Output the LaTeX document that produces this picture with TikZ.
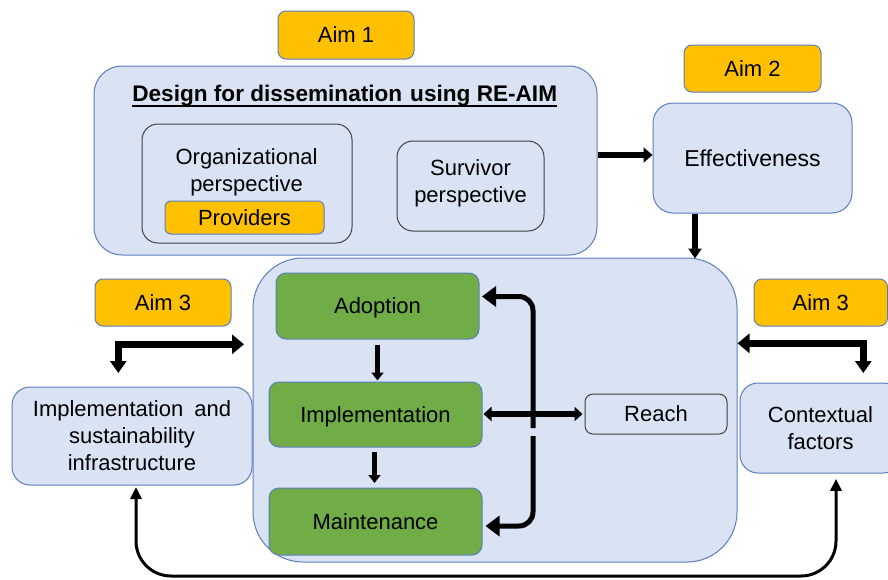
\documentclass[tikz,border=0pt]{standalone}
\usepackage{fontspec}
\setmainfont{Liberation Sans}
\usetikzlibrary{arrows.meta,calc}
\definecolor{lblue}{HTML}{DAE3F3}
\definecolor{bblue}{HTML}{5B7DBF}
\definecolor{ayel}{HTML}{FFC000}
\definecolor{agrn}{HTML}{70AD47}
\definecolor{bgray}{HTML}{404040}
\tikzset{
  every node/.style={font=\fontsize{22}{27}\selectfont, inner sep=0pt, align=center},
  bluebox/.style={draw=bblue, fill=lblue, line width=1pt, rounded corners=18pt},
  aimbox/.style={draw=bblue, fill=ayel, line width=1pt, rounded corners=8pt, text depth=0pt},
  grnbox/.style={draw=bblue, fill=agrn, line width=1pt, rounded corners=10pt, text depth=0pt},
  graybox/.style={draw=bgray, fill=lblue, line width=1pt, rounded corners=16pt},
  bigarr/.style={line width=6.5pt, -{Triangle[length=9pt,width=15pt]}},
  medarr/.style={line width=5.5pt, -{Triangle[length=8pt,width=12pt]}},
  brarr/.style={line width=5pt, rounded corners=14pt, -{Triangle[length=14pt,width=20pt]}},
  dblarr/.style={line width=5.5pt, {Triangle[length=8pt,width=14pt]}-{Triangle[length=8pt,width=14pt]}},
  bentarr/.style={line width=7pt, {Triangle[length=12pt,width=19pt]}-{Triangle[length=12pt,width=16pt]}},
  thinarr/.style={line width=3pt, rounded corners=35pt, {Triangle[length=12pt,width=11pt]}-{Triangle[length=12pt,width=11pt]}},
}
\begin{document}
\begin{tikzpicture}[x=1pt,y=-1pt]
\useasboundingbox (0,0) rectangle (888,579);
\clip (0,0) rectangle (888,579);

% top part
\node[aimbox, minimum width=136pt, minimum height=48pt] (aim1) at (346,35) {Aim 1};
\node[bluebox, rounded corners=28pt, minimum width=503pt, minimum height=189pt] (design) at (345.5,160.5) {};
\node[anchor=base, font=\fontsize{22.6}{27}\selectfont] (title) at (344.7,101.5) {\bfseries Design for dissemination\hspace{0.35em}using RE-AIM};
\draw[line width=1.4pt] ([yshift=-4.5pt]title.base west) -- ([yshift=-4.5pt]title.base east);
\node[graybox, minimum width=210pt, minimum height=119pt] (org) at (247,183.5) {};
\node (orgtext) at (246.5,172.5) {Organizational\\perspective};
\node[aimbox, rounded corners=6pt, minimum width=159pt, minimum height=33pt] (prov) at (244.5,217.5) {Providers};
\node[graybox, minimum width=147pt, minimum height=90pt] (surv) at (470.5,186) {};
\node (survtext) at (470.5,183) {Survivor\\perspective};

\node[aimbox, minimum width=137pt, minimum height=47pt] (aim2) at (752.5,68.5) {Aim 2};
\node[bluebox, rounded corners=20pt, minimum width=199pt, minimum height=110pt, font=\fontsize{23}{27}\selectfont] (eff) at (752.5,158) {Effectiveness};

% central
\node[bluebox, rounded corners=50pt, minimum width=484pt, minimum height=304pt] (central) at (495,410) {};
\node[grnbox, minimum width=203pt, minimum height=66pt] (adop) at (377.5,306) {Adoption};
\node[grnbox, minimum width=213pt, minimum height=65pt] (impl) at (375.5,414.5) {Implementation};
\node[grnbox, minimum width=213pt, minimum height=67pt] (maint) at (375.5,521.5) {Maintenance};
\node[graybox, rounded corners=8pt, minimum width=142pt, minimum height=40pt, text depth=0pt] (reach) at (656,414) {Reach};

% sides
\node[aimbox, minimum width=136pt, minimum height=47pt] (aim3l) at (163,302.5) {Aim 3};
\node[aimbox, minimum width=133.5pt, minimum height=47pt] (aim3r) at (820.75,302.5) {Aim 3};
\node[bluebox, minimum width=240pt, minimum height=98pt] (infra) at (132,436) {Implementation\hspace{0.5em}and\\sustainability\\infrastructure};
\node[bluebox, minimum width=161pt, minimum height=90pt] (ctx) at (820.5,428) {Contextual\\factors};

% coordinates
\coordinate (y155) at (0,155);
\coordinate (x695) at (695,0);
\coordinate (x836) at (836,0);
\coordinate (bk1) at (533,428);
\coordinate (bk2) at (533,436);
\coordinate (la1) at (244,344.3);
\coordinate (la2) at (118.3,373);
\coordinate (ra1) at (737.5,343.3);
\coordinate (ra2) at (863.3,373);
\coordinate (ybot) at (480,576);

% arrows
\draw[bigarr] (design.east |- y155) -- (eff.west |- y155);
\draw[bigarr, -{Triangle[length=10pt,width=13pt]}, line width=6pt] (eff.south -| x695) -- ($(central.north -| x695)+(0,1)$);
\draw[medarr] ($(adop.south)+(0,5)$) -- ($(impl.north -| adop.south)+(0,-1)$);
\draw[medarr] ($(impl.south)+(-1,4.5)$) -- ($(maint.north)+(-1,-4.5)$);
\draw[dblarr] ($(reach.west -| impl.east)+(1,0)$) -- ($(reach.west)+(-2,0)$);
\draw[brarr] (bk1) |- ($(adop.east)+(2.5,-9.5)$);
\draw[brarr] (bk2) |- ($(maint.east)+(3,4.5)$);
\draw[bentarr] (la1) -| (la2);
\draw[bentarr] (ra1) -| (ra2);
\draw[thinarr] ($(infra.south)+(4,1.5)$) |- (ybot) -| ($(ctx.south -| x836)+(0,5.3)$);
\end{tikzpicture}
\end{document}
